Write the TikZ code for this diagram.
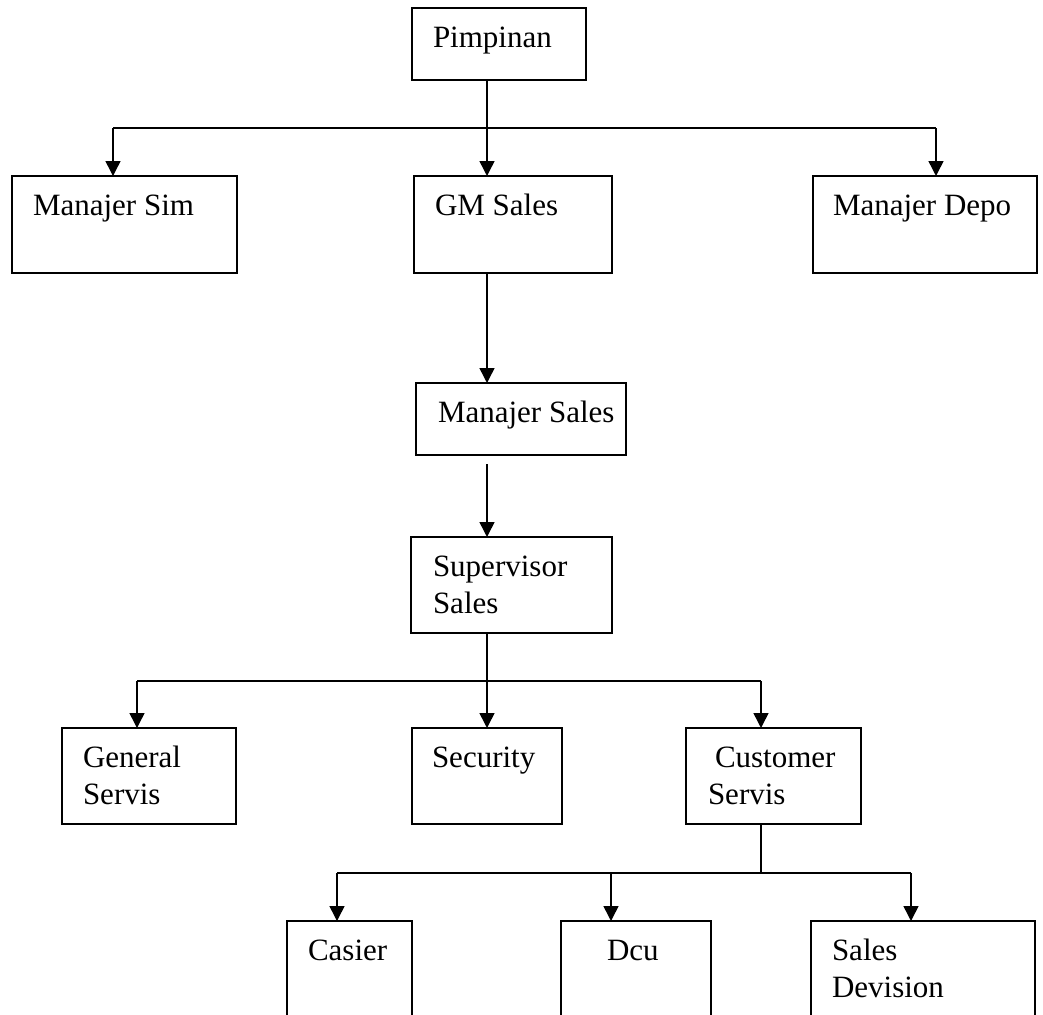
\documentclass[tikz,border=0pt]{standalone}
\usepackage{fontspec}
\setmainfont{Liberation Serif}
\usetikzlibrary{arrows.meta,calc}
\begin{document}
\begin{tikzpicture}[x=1pt,y=-1pt,
  box/.style={draw,line width=1.6pt,rectangle,inner sep=0pt,outer sep=0pt},
  lbl/.style={anchor=north west,inner sep=0pt,outer sep=0pt,align=left,font=\fontsize{31}{37}\selectfont},
  conn/.style={line width=1.5pt},
  arr/.style={conn,-{Triangle[length=15pt,width=15pt]}}]
\useasboundingbox[fill=white] (0,0) rectangle (1043,1014);
\clip (0,0) rectangle (1043,1014);
% boxes
\node[box,minimum width=174pt,minimum height=72pt] (pim) at (499,44) {};
\node[box,minimum width=225pt,minimum height=97pt] (sim) at (124.5,224.5) {};
\node[box,minimum width=198pt,minimum height=97pt] (gm) at (513,224.5) {};
\node[box,minimum width=224pt,minimum height=97pt] (depo) at (925,224.5) {};
\node[box,minimum width=210pt,minimum height=72pt] (msales) at (521,419) {};
\node[box,minimum width=201pt,minimum height=96pt] (sup) at (511.5,585) {};
\node[box,minimum width=174pt,minimum height=96pt] (gen) at (149,776) {};
\node[box,minimum width=150pt,minimum height=96pt] (sec) at (487,776) {};
\node[box,minimum width=175pt,minimum height=96pt] (cust) at (773.5,776) {};
\node[box,minimum width=125pt,minimum height=119pt] (cas) at (349.5,980.5) {};
\node[box,minimum width=150pt,minimum height=119pt] (dcu) at (636,980.5) {};
\node[box,minimum width=224pt,minimum height=119pt] (sdev) at (923,980.5) {};
% texts
\node[lbl] (pimT) at ($(pim.north west)+(21,14)$) {\strut Pimpinan};
\node[lbl] (simT) at ($(sim.north west)+(21,14)$) {\strut Manajer Sim};
\node[lbl] (gmT) at ($(gm.north west)+(21,14)$) {\strut GM Sales};
\node[lbl] (depoT) at ($(depo.north west)+(20,14)$) {\strut Manajer Depo};
\node[lbl] (msalesT) at ($(msales.north west)+(22,14)$) {\strut Manajer Sales};
\node[lbl] (supT) at ($(sup.north west)+(22,14)$) {\strut Supervisor\\Sales};
\node[lbl] (genT) at ($(gen.north west)+(21,14)$) {\strut General\\Servis};
\node[lbl] (secT) at ($(sec.north west)+(20,14)$) {\strut Security};
\node[lbl] (custT) at ($(cust.north west)+(22,14)$) {\strut\hspace{7pt}Customer\\Servis};
\node[lbl] (casT) at ($(cas.north west)+(21,14)$) {\strut Casier};
\node[lbl] (dcuT) at ($(dcu.north west)+(46,14)$) {\strut Dcu};
\node[lbl] (sdevT) at ($(sdev.north west)+(21,14)$) {\strut Sales\\Devision};
% junction coordinates
\coordinate (j1) at (487,128);
\coordinate (bL) at (113,128);
\coordinate (bR) at (936,128);
\coordinate (c1) at (137,681);
\coordinate (c2) at (761,681);
\coordinate (d1) at (337,873);
\coordinate (dm) at (611,873);
\coordinate (d2) at (911,873);
% connectors
\draw[arr] (pim.south -| j1) -- (gm.north -| j1);
\draw[conn] (bL) -- (bR);
\draw[arr] (bL) -- (bL |- sim.north);
\draw[arr] (bR) -- (bR |- depo.north);
\draw[arr] (gm.south -| j1) -- (msales.north -| j1);
\draw[arr] ([yshift=-9pt]msales.south -| j1) -- (sup.north -| j1);
\draw[arr] (sup.south -| j1) -- (sec.north -| j1);
\draw[conn] (c1) -- (c2);
\draw[arr] (c1) -- (c1 |- gen.north);
\draw[arr] (c2) -- (c2 |- cust.north);
\draw[conn] (cust.south -| c2) -- (c2 |- d1);
\draw[conn] (d1) -- (d2);
\draw[arr] (d1) -- (d1 |- cas.north);
\draw[arr] (dm) -- (dm |- dcu.north);
\draw[arr] (d2) -- (d2 |- sdev.north);
\end{tikzpicture}
\end{document}
